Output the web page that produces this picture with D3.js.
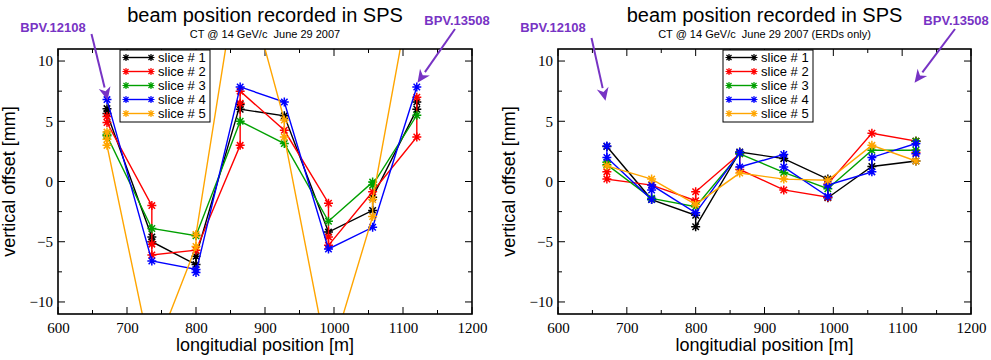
<!DOCTYPE html>
<html>
<head>
<meta charset="utf-8">
<script src="https://cdn.jsdelivr.net/npm/d3@7"></script>
<style>
  body { margin: 0; background: #fff; }
  svg { display: block; }
</style>
</head>
<body>
<div id="chart"></div>
<script>
// BPM positions along the line [m]
const bpmPositions = [671, 736, 800, 864, 928, 992, 1056, 1120];

const sliceLabels = ["slice # 1", "slice # 2", "slice # 3", "slice # 4", "slice # 5"];
const sliceColors = ["#000000", "#ff0000", "#00a000", "#0000ff", "#ffa500"];

// readings per BPM (several readings at the same position are joined vertically)
// left panel: all BPMs
const allSlice1 = [[6.05, 5.65], [-4.6, -5.0], [-6.9, -6.2], [6.4, 6.0], [5.45], [-4.2], [-2.4, -1.3], [6.0, 6.6]];
const allSlice2 = [[5.4, 4.9], [-2.0, -5.2, -6.1], [-5.7], [3.0, 6.5, 7.5], [4.25], [-1.8, -4.6, -5.3], [-0.85], [3.7, 7.0]];
const allSlice3 = [[3.9, 3.8], [-3.9], [-4.5], [5.0], [3.15], [-3.3], [-0.05, -0.3], [5.5]];
const allSlice4 = [[6.8], [-6.6], [-7.3, -7.55], [7.85], [6.6], [-5.6], [-3.8], [7.85]];
const allSlice5 = [[4.1, 3.5, 3.0], [-14.8], [-5.4, -4.4], [18.6], [5.1, 3.7], [-15.1], [-2.9, -1.5], [18.5]];

// right panel: ERDs only
const erdSlice1 = [[2.9], [-1.5], [-2.8, -3.75], [2.45], [1.9], [0.2, -1.35], [1.25], [1.7, 3.35]];
const erdSlice2 = [[0.8, 0.2], [-0.3], [-1.6, -0.85], [2.3, 1.0], [-0.7], [-1.3, -0.2], [4.0], [3.35, 2.4]];
const erdSlice3 = [[1.6, 1.4], [-1.4], [-2.1], [2.3], [0.75], [-0.6], [2.6], [2.6, 3.35]];
const erdSlice4 = [[2.95, 2.0], [-1.5, -0.7, -0.3], [-2.6], [2.4, 1.2], [2.25, 1.2], [-1.25, -0.3], [0.8, 2.0], [3.15, 2.3]];
const erdSlice5 = [[1.3], [0.2], [-1.9], [0.7], [0.2], [0.1], [3.0], [1.7]];

const xDomain = [600, 1200];
const yDomain = [-11, 11];
const xTicks = [600, 700, 800, 900, 1000, 1100, 1200];
const yTicks = [-10, -5, 0, 5, 10];

const W = 991, H = 360;
const plotTop = 49, plotBottom = 314;
const purple = "#7733c4";

const svg = d3.select("#chart").append("svg")
  .attr("width", W)
  .attr("height", H);

const starPath = (r) => {
  const a = r * 0.72;
  return `M${-r},0L${r},0M0,${-r}L0,${r}M${-a},${-a}L${a},${a}M${-a},${a}L${a},${-a}`;
};

function drawPanel(id, left, right, series, subtitle, notes, legendX) {
  const g = svg.append("g");
  const x = d3.scaleLinear().domain(xDomain).range([left, right]);
  const y = d3.scaleLinear().domain(yDomain).range([plotBottom, plotTop]);
  const cx = (left + right) / 2;

  g.append("text")
    .attr("x", cx).attr("y", 22)
    .attr("text-anchor", "middle")
    .style("font-family", "Liberation Sans, Arial, sans-serif")
    .style("font-size", "20px")
    .text("beam position recorded in SPS");
  g.append("text")
    .attr("x", cx).attr("y", 37.5)
    .attr("text-anchor", "middle")
    .style("font-family", "Liberation Sans, Arial, sans-serif")
    .style("font-size", "11px")
    .style("white-space", "pre")
    .text(subtitle);

  // axes with inward ticks on all four sides
  const tickFont = sel => sel.selectAll("text")
    .style("font-family", "Liberation Serif, Times New Roman, serif")
    .style("font-size", "15px")
    .attr("fill", "#000");

  const xMinor = d3.range(600, 1201, 50);
  const yMinor = d3.range(-10, 10.1, 2.5);

  const ticksG = g.append("g").attr("stroke", "#000").attr("stroke-width", 1);
  xMinor.forEach(v => {
    const len = v % 100 === 0 ? 7 : 4;
    ticksG.append("line").attr("x1", x(v)).attr("x2", x(v)).attr("y1", plotBottom).attr("y2", plotBottom - len);
    ticksG.append("line").attr("x1", x(v)).attr("x2", x(v)).attr("y1", plotTop).attr("y2", plotTop + len);
  });
  yMinor.forEach(v => {
    const len = v % 5 === 0 ? 7 : 4;
    ticksG.append("line").attr("x1", left).attr("x2", left + len).attr("y1", y(v)).attr("y2", y(v));
    ticksG.append("line").attr("x1", right).attr("x2", right - len).attr("y1", y(v)).attr("y2", y(v));
  });

  const xLab = g.append("g").attr("transform", `translate(0,${plotBottom})`)
    .call(d3.axisBottom(x).tickValues(xTicks).tickSize(0).tickPadding(8).tickFormat(d3.format("d")));
  xLab.select(".domain").remove();
  xLab.call(tickFont);

  const yLab = g.append("g").attr("transform", `translate(${left},0)`)
    .call(d3.axisLeft(y).tickValues(yTicks).tickSize(0).tickPadding(5).tickFormat(d3.format("d")));
  yLab.select(".domain").remove();
  yLab.call(tickFont);

  g.append("text")
    .attr("x", cx).attr("y", 351)
    .attr("text-anchor", "middle")
    .style("font-family", "Liberation Sans, Arial, sans-serif")
    .style("font-size", "18px")
    .text("longitudial position [m]");
  g.append("text")
    .attr("transform", `translate(${left - 43},${(plotTop + plotBottom) / 2}) rotate(-90)`)
    .attr("text-anchor", "middle")
    .style("font-family", "Liberation Sans, Arial, sans-serif")
    .style("font-size", "18px")
    .text("vertical offset [mm]");

  // data
  g.append("clipPath").attr("id", id + "-clip")
    .append("rect").attr("x", left).attr("y", plotTop).attr("width", right - left).attr("height", plotBottom - plotTop);
  const plot = g.append("g").attr("clip-path", `url(#${id}-clip)`);

  const line = d3.line().x(d => x(d[0])).y(d => y(d[1]));
  series.forEach((readings, i) => {
    const pts = [];
    readings.forEach((r, k) => r.forEach(v => pts.push([bpmPositions[k], v])));
    plot.append("path")
      .datum(pts)
      .attr("fill", "none")
      .attr("stroke", sliceColors[i])
      .attr("stroke-width", 1.4)
      .attr("d", line);
    plot.append("g")
      .selectAll("path")
      .data(pts)
      .join("path")
      .attr("transform", d => `translate(${x(d[0])},${y(d[1])})`)
      .attr("d", starPath(4.5))
      .attr("stroke", sliceColors[i])
      .attr("stroke-width", 1.5)
      .attr("fill", "none");
  });

  // frame
  g.append("rect")
    .attr("x", left).attr("y", plotTop)
    .attr("width", right - left).attr("height", plotBottom - plotTop)
    .attr("fill", "none").attr("stroke", "#000").attr("stroke-width", 1.6);

  // legend
  const lg = g.append("g");
  lg.append("rect")
    .attr("x", legendX).attr("y", plotTop + 1)
    .attr("width", 90).attr("height", 72)
    .attr("fill", "#fff").attr("stroke", "#000").attr("stroke-width", 1);
  sliceLabels.forEach((lab, i) => {
    const ly = plotTop + 8.5 + i * 14;
    lg.append("line")
      .attr("x1", legendX + 6).attr("x2", legendX + 31)
      .attr("y1", ly).attr("y2", ly)
      .attr("stroke", sliceColors[i]).attr("stroke-width", 1.4);
    [legendX + 6, legendX + 31].forEach(px => {
      lg.append("path")
        .attr("transform", `translate(${px},${ly})`)
        .attr("d", starPath(3.5))
        .attr("stroke", sliceColors[i]).attr("stroke-width", 1.2).attr("fill", "none");
    });
    lg.append("text")
      .attr("x", legendX + 38).attr("y", ly + 4.5)
      .style("font-family", "Liberation Sans, Arial, sans-serif")
      .style("font-size", "13px")
      .text(lab);
  });

  // BPM annotations
  notes.forEach(n => {
    g.append("text")
      .attr("x", n.tx).attr("y", n.ty)
      .attr("text-anchor", "middle")
      .attr("fill", purple)
      .style("font-family", "Liberation Sans, Arial, sans-serif")
      .style("font-weight", "bold")
      .style("font-size", "13px")
      .text(n.label);
    const x2 = x(n.at[0]), y2 = y(n.at[1]);
    const ang = Math.atan2(y2 - n.from[1], x2 - n.from[0]);
    const hl = 13, hw = 6;
    const bx = x2 - hl * Math.cos(ang), by = y2 - hl * Math.sin(ang);
    g.append("line")
      .attr("x1", n.from[0]).attr("y1", n.from[1])
      .attr("x2", bx).attr("y2", by)
      .attr("stroke", purple).attr("stroke-width", 2);
    const px = -Math.sin(ang), py = Math.cos(ang);
    g.append("path")
      .attr("d", `M${x2},${y2}L${bx + px * hw},${by + py * hw}L${bx + hl * 0.3 * Math.cos(ang)},${by + hl * 0.3 * Math.sin(ang)}L${bx - px * hw},${by - py * hw}Z`)
      .attr("fill", purple);
  });
}

drawPanel("all", 58, 472,
  [allSlice1, allSlice2, allSlice3, allSlice4, allSlice5],
  "CT @ 14 GeV/c  June 29 2007",
  [
    { label: "BPV.12108", tx: 53, ty: 32, from: [91.5, 34], at: [672, 6.75] },
    { label: "BPV.13508", tx: 457, ty: 25, from: [455, 29], at: [1121, 8.2] }
  ], 120);

drawPanel("erd", 558, 971,
  [erdSlice1, erdSlice2, erdSlice3, erdSlice4, erdSlice5],
  "CT @ 14 GeV/c  June 29 2007 (ERDs only)",
  [
    { label: "BPV.12108", tx: 553, ty: 32, from: [591.5, 38], at: [669, 6.7] },
    { label: "BPV.13508", tx: 956, ty: 25, from: [955, 29], at: [1118, 8.2] }
  ], 723);
</script>
</body>
</html>
